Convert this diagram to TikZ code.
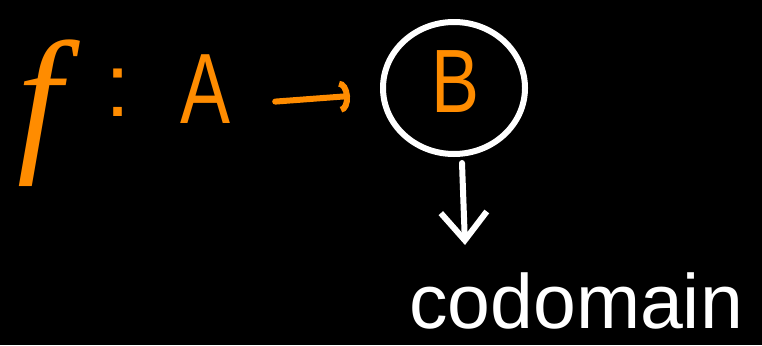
\documentclass[tikz,border=0pt]{standalone}
\usepackage{fontspec}
\setmainfont{Liberation Sans}
\newfontfamily\penserif{Liberation Serif}
\usepackage{tikz}
\usetikzlibrary{arrows.meta,shapes.geometric}
\definecolor{board}{HTML}{000000}
\definecolor{marker}{HTML}{FF8C00}
\definecolor{chalk}{HTML}{FFFFFF}

\begin{document}
\begin{tikzpicture}[x=1pt,y=-1pt,
    orangepen/.style={text=marker,inner sep=0pt,anchor=base},
    whitepen/.style={text=chalk,inner sep=0pt,anchor=base},
    stroke/.style={line width=6pt,line cap=round,line join=round}]
  \fill[board] (0,0) rectangle (762,345);
  \useasboundingbox (0,0) rectangle (762,345);

  \node[orangepen,font=\penserif\itshape\fontsize{160}{160}\selectfont] (f) at (40,152) {f};
  \node[orangepen,font=\fontsize{90}{90}\selectfont] (colon) at (118,116) {:};
  \node[orangepen,xscale=0.75,font=\fontsize{100}{100}\selectfont] (A) at (206,123) {A};
  \node[orangepen,xscale=0.8,font=\fontsize{90}{90}\selectfont] (B) at (456,112) {B};
  \node[draw=chalk,stroke,ellipse,minimum width=142pt,minimum height=132pt] (ring) at (454,88) {};
  \node[whitepen,font=\fontsize{77}{77}\selectfont] (codomain) at (576,328) {codomain};

  \draw[marker,stroke,-{Arc Barb[length=10pt,width=32pt]}]
    ([xshift=44pt,yshift=-13pt]A.east) -- ([xshift=-30pt,yshift=-8pt]ring.west);
  \draw[chalk,stroke,-{Straight Barb[length=28pt,width=46pt]}]
    ([xshift=8pt,yshift=-6pt]ring.south) -- ([xshift=-111pt,yshift=27pt]codomain.north);
\end{tikzpicture}
\end{document}
